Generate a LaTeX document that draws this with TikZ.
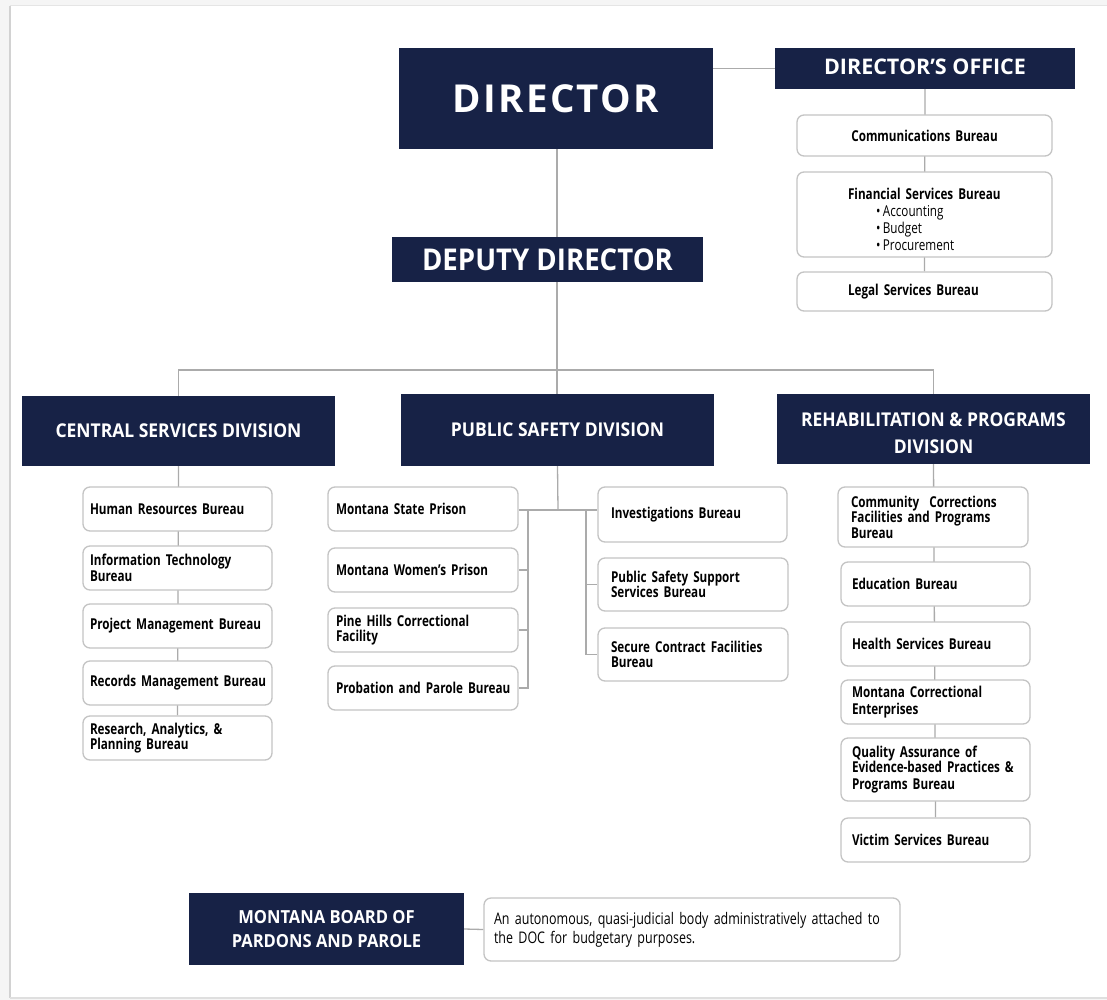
\documentclass[tikz,border=0pt]{standalone}
\usepackage{fontspec}
\setmainfont{Open Sans}
\newfontfamily\condf{Open Sans}[FakeStretch=0.78]
\newfontfamily\headf{Open Sans}[FakeStretch=0.92]
\newfontfamily\bigf{Open Sans}[LetterSpace=6]
\definecolor{navy}{HTML}{172246}
\definecolor{linegray}{HTML}{ABABAB}
\definecolor{edgegray}{HTML}{C4C4C4}
\pgfdeclarelayer{page}
\pgfdeclarelayer{links}
\pgfsetlayers{page,links,main}
\tikzset{
  hdr/.style={fill=navy,text=white,inner sep=0pt,align=center,
    font=\headf\bfseries\fontsize{19}{27}\selectfont},
  hdrtext/.style={text=white,inner sep=0pt,align=center,
    font=\headf\bfseries\fontsize{19}{27}\selectfont},
  bureau/.style={draw=edgegray,line width=1.3pt,rounded corners=7pt,fill=white,
    inner ysep=0pt,align=left,font=\condf\bfseries\fontsize{15}{15.5}\selectfont},
  link/.style={draw=linegray,line width=1.3pt}
}
\def\inset{7}
% header box from its corners: [options]{name}{x1}{y1}{x2}{y2}{text}
\newcommand\hdrbox[7][]{%
  \pgfmathsetmacro\bw{#5-#3}\pgfmathsetmacro\bh{#6-#4}%
  \node[hdr,minimum width=\bw pt,minimum height=\bh pt,#1] (#2) at ({(#3+#5)/2},{(#4+#6)/2}) {#7};}
% rounded bureau box from its corners
\newcommand\orgbox[7][]{%
  \pgfmathsetmacro\bw{#5-#3}\pgfmathsetmacro\bh{#6-#4}\pgfmathsetmacro\tw{#5-#3-2*\inset}%
  \node[bureau,inner xsep=\inset pt,minimum width=\bw pt,minimum height=\bh pt,text width=\tw pt,#1] (#2) at ({(#3+#5)/2},{(#4+#6)/2}) {#7};}
\begin{document}
\hyphenpenalty=10000 \exhyphenpenalty=10000
\begin{tikzpicture}[x=1pt,y=-1pt]
\useasboundingbox (0,0) rectangle (1107,1000);
\begin{pgfonlayer}{page}
  \fill[gray!8] (0,0) rectangle (1107,1000);
  \fill[white] (11,6) rectangle (1107,997);
  \draw[gray!35,line width=2.5pt] (10,6) -- (10,998);
  \draw[gray!20,line width=1pt] (10,6) -- (1107,6);
  \draw[gray!25,line width=1.5pt] (10,998) -- (1107,998);
\end{pgfonlayer}

% top level
\hdrbox[font=\bigf\bfseries\fontsize{38.5}{40}\selectfont]{dir}{399}{48}{713}{149}{DIRECTOR}
\hdrbox{off}{775}{48}{1075}{89}{}
\node[hdrtext,font=\bfseries\fontsize{21.5}{21.5}\selectfont] (offt) at ([yshift=2pt]off.center) {DIRECTOR’S OFFICE};
\hdrbox[font=\headf\bfseries\fontsize{30}{30}\selectfont]{dep}{392}{237}{703}{282}{DEPUTY DIRECTOR}

% director's office units
\orgbox[align=center]{comm}{797}{115}{1052}{156}{Communications Bureau}
\orgbox{fin}{797}{172}{1052}{257}{\rule{0pt}{21pt}\hspace*{44pt}Financial Services Bureau\\[2pt]
  {\mdseries\hspace*{72pt}\textbullet\,Accounting\\[1.5pt]
  \hspace*{72pt}\textbullet\,Budget\\[1.5pt]
  \hspace*{72pt}\textbullet\,Procurement}}
\orgbox{legal}{797}{272}{1052}{311}{\hspace*{44pt}Legal Services Bureau}

% divisions
\hdrbox{csd}{22}{396}{335}{466}{CENTRAL SERVICES DIVISION}
\hdrbox{psd}{401}{394}{714}{466}{PUBLIC SAFETY DIVISION}
\hdrbox{rpd}{777}{394}{1090}{464}{}
\node[hdrtext] (rpdt) at ([yshift=-4.5pt]rpd.center) {REHABILITATION \& PROGRAMS\\DIVISION};

% central services bureaus
\def\inset{7}
\orgbox{hrb}{83}{487}{272}{531}{Human Resources Bureau}
\orgbox{itb}{83}{546}{272}{590}{Information Technology\\Bureau}
\orgbox{pmb}{83}{604}{272}{648}{Project Management Bureau}
\orgbox{rmb}{83}{661}{272}{705}{\mbox{Records Management Bureau}}
\orgbox{rap}{83}{716}{272}{760}{Research, Analytics, \&\\Planning Bureau}

% public safety units
\def\inset{8}
\orgbox{msp}{328}{487}{518}{531}{Montana State Prison}
\orgbox{mwp}{328}{548}{518}{592}{Montana Women’s Prison}
\orgbox{phc}{328}{608}{518}{652}{Pine Hills Correctional\\Facility}
\orgbox{ppb}{328}{666}{518}{710}{\mbox{Probation and Parole Bureau}}
\def\inset{13}
\orgbox{inv}{598}{487}{787}{542}{Investigations Bureau}
\orgbox{pss}{598}{558}{788}{611}{Public Safety Support\\Services Bureau}
\orgbox{scf}{598}{628}{788}{681}{Secure Contract Facilities\\Bureau}

% rehabilitation units
\def\inset{13}
\orgbox{ccf}{838}{487}{1028}{547}{Community\ \ Corrections\\Facilities and Programs\\Bureau}
\def\inset{11}
\orgbox{edu}{841}{562}{1030}{606}{Education Bureau}
\orgbox{hsb}{841}{622}{1030}{666}{Health Services Bureau}
\orgbox{mce}{841}{680}{1030}{724}{Montana Correctional\\[2pt]Enterprises}
\orgbox{qae}{841}{738}{1030}{801}{Quality Assurance of\\Evidence-based Practices \&\\[1pt]Programs Bureau}
\orgbox{vsb}{841}{818}{1030}{862}{Victim Services Bureau}

% board
\hdrbox[font=\headf\bfseries\fontsize{18}{24}\selectfont]{mbp}{189}{893}{464}{965}{MONTANA BOARD OF\\PARDONS AND PAROLE}
\def\inset{10}
\orgbox[font=\condf\fontsize{16}{19}\selectfont]{desc}{484}{898}{900}{961}{\mbox{An autonomous, quasi-judicial body administratively attached to}\\the DOC for budgetary purposes.}

% connectors
\coordinate (bar) at (557,370);
\coordinate (psj) at (558,510);
\coordinate (lb) at (528,510);
\coordinate (rb) at (586,510);
\begin{pgfonlayer}{links}
  \draw[link] (dir.east |- off.west) -- (off.west);
  \draw[link] (off.south) -- (legal.north);
  \draw[link] (bar |- dir.south) -- (bar);
  \draw[link] (csd.north) -- (csd.north |- bar) -- (rpd.north |- bar) -- (rpd.north);
  \draw[link] (bar) -- (bar |- psd.north);
  \draw[link] (csd.south) -- (rap.north);
  \draw[link] (psd.south) -- (psj);
  \draw[link] (msp.east |- psj) -- (inv.west |- psj);
  \draw[link] (lb) |- (ppb.east);
  \draw[link] (lb |- mwp.east) -- (mwp.east);
  \draw[link] (lb |- phc.east) -- (phc.east);
  \draw[link] (rb) |- (scf.west);
  \draw[link] (rb |- pss.west) -- (pss.west);
  \draw[link] (rpd.south) -- (vsb.north);
  \draw[link] (mbp.east) -- (desc.west);
\end{pgfonlayer}
\end{tikzpicture}
\end{document}
